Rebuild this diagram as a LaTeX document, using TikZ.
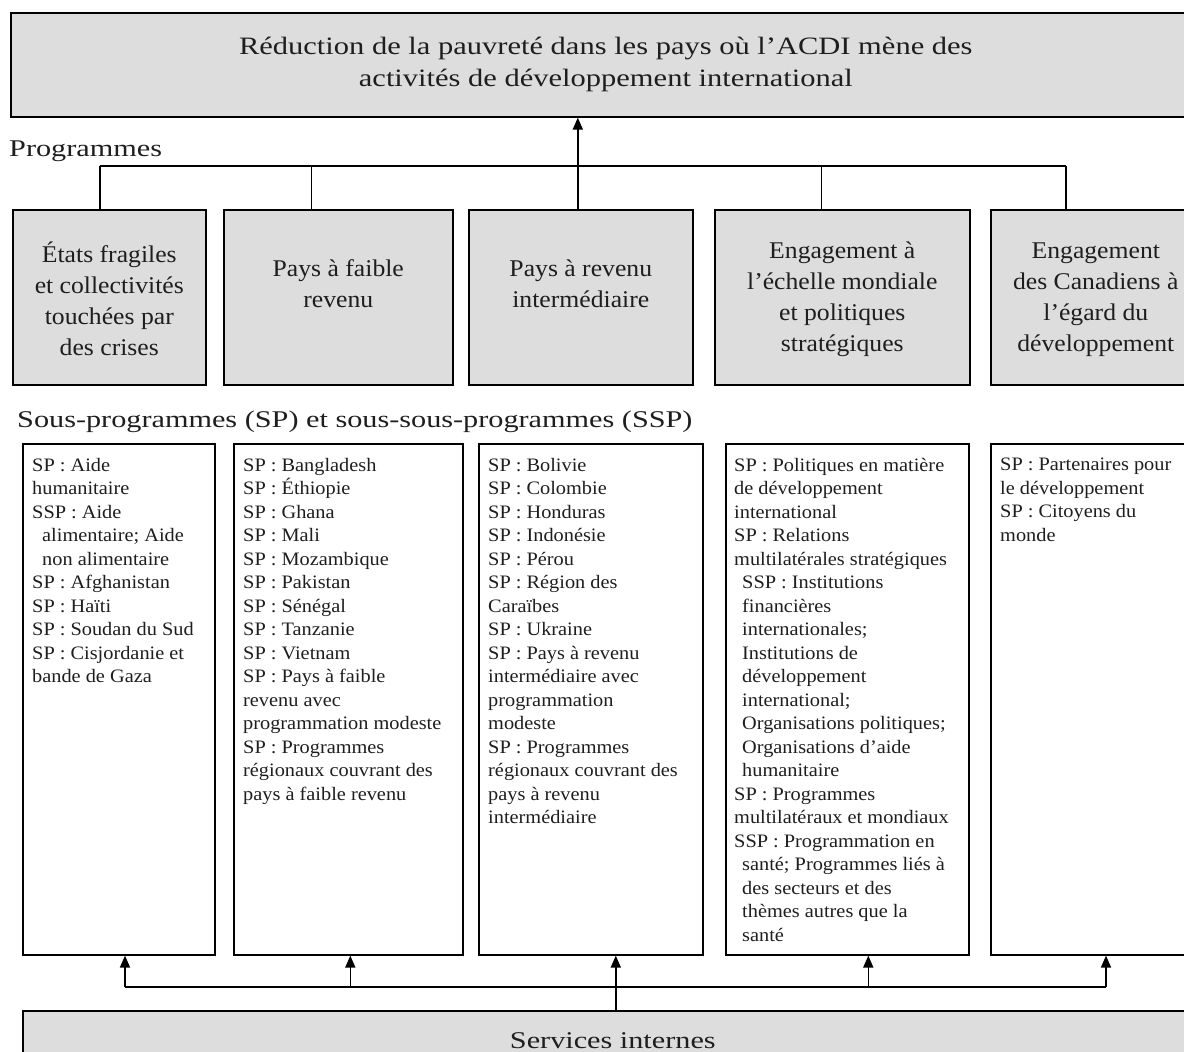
\documentclass[tikz,border=0pt]{standalone}
\usepackage{fontspec}
\setmainfont{Liberation Serif}
\newfontfamily\labelfont[FakeStretch=1.26]{Liberation Serif}
\newfontfamily\goalfont[FakeStretch=1.22]{Liberation Serif}
\newfontfamily\boxfont[FakeStretch=1.07]{Liberation Serif}
\newfontfamily\listfont[FakeStretch=1.07]{Liberation Serif}
\usetikzlibrary{positioning,calc,arrows.meta}
\definecolor{boxgray}{RGB}{221,221,221}
\definecolor{inkgray}{RGB}{30,30,30}

\begin{document}
\begin{tikzpicture}[x=1pt,y=-1pt,every node/.style={font=\labelfont\fontsize{24}{31}\selectfont, text=inkgray}]
  \tikzstyle{bigbox}=[draw, fill=boxgray, line width=1.6pt, anchor=north west, inner sep=0pt, align=center]
  \tikzstyle{progbox}=[draw, fill=boxgray, line width=1.6pt, anchor=north west, minimum height=175pt]
  \tikzstyle{subbox}=[draw, line width=1.6pt, anchor=north west, minimum height=511pt]
  \tikzstyle{progtext}=[align=center, inner sep=0pt, font=\boxfont\fontsize{24}{31}\selectfont]
  \tikzstyle{subtext}=[align=left, anchor=north west, inner sep=0pt, font=\listfont\fontsize{19}{23.5}\selectfont]
  \tikzstyle{link}=[line width=1.6pt]
  \tikzstyle{uparrow}=[line width=1.6pt, -{Triangle[length=12pt,width=10pt]}]
  \useasboundingbox (0,0) rectangle (1184,1052);
  % goal
  \node[bigbox, minimum width=1190pt, minimum height=104pt, font=\goalfont\fontsize{25}{32}\selectfont] (goal) at (10,12) {Réduction de la pauvreté dans les pays où l’ACDI mène des\\activités de développement international};
  \node[anchor=west, inner sep=0pt] (proglabel) at (9,151) {Programmes};
  % programmes
  \node[progbox, minimum width=193pt] (prog1) at (12,209) {};
  \node[progbox, minimum width=229pt] (prog2) at (223,209) {};
  \node[progbox, minimum width=224pt] (prog3) at (468,209) {};
  \node[progbox, minimum width=255pt] (prog4) at (714,209) {};
  \node[progbox, minimum width=210pt] (prog5) at (990,209) {};
  \node[progtext] (prog1text) at ([yshift=-2pt]prog1.center) {États fragiles\\et collectivités\\touchées par\\des crises};
  \node[progtext] (prog2text) at ([yshift=14pt]prog2.center) {Pays à faible\\revenu};
  \node[progtext] (prog3text) at ([yshift=14pt]prog3.center) {Pays à revenu\\intermédiaire};
  \node[progtext] (prog4text) at ([yshift=-2pt]prog4.center) {Engagement à\\l’échelle mondiale\\et politiques\\stratégiques};
  \node[progtext] (prog5text) at ([yshift=-2pt]prog5.center) {Engagement\\des Canadiens à\\l’égard du\\développement};
  \node[anchor=west, inner sep=0pt] (sublabel) at (17,422) {Sous-programmes (SP) et sous-sous-programmes (SSP)};
  % sub-programmes
  \node[subbox, minimum width=192pt] (sub1) at (22,443) {};
  \node[subbox, minimum width=229pt] (sub2) at (233,443) {};
  \node[subbox, minimum width=224pt] (sub3) at (478,443) {};
  \node[subbox, minimum width=243pt] (sub4) at (725,443) {};
  \node[subbox, minimum width=210pt] (sub5) at (990,443) {};
  \node[subtext] (sub1text) at ([shift={(10,15)}]sub1.north west) {SP : Aide\\humanitaire\\SSP : Aide\\\hspace*{10pt}alimentaire; Aide\\\hspace*{10pt}non alimentaire\\SP : Afghanistan\\SP : Haïti\\SP : Soudan du Sud\\SP : Cisjordanie et\\bande de Gaza};
  \node[subtext] (sub2text) at ([shift={(10,15)}]sub2.north west) {SP : Bangladesh\\SP : Éthiopie\\SP : Ghana\\SP : Mali\\SP : Mozambique\\SP : Pakistan\\SP : Sénégal\\SP : Tanzanie\\SP : Vietnam\\SP : Pays à faible\\revenu avec\\programmation modeste\\SP : Programmes\\régionaux couvrant des\\pays à faible revenu};
  \node[subtext] (sub3text) at ([shift={(10,15)}]sub3.north west) {SP : Bolivie\\SP : Colombie\\SP : Honduras\\SP : Indonésie\\SP : Pérou\\SP : Région des\\Caraïbes\\SP : Ukraine\\SP : Pays à revenu\\intermédiaire avec\\programmation\\modeste\\SP : Programmes\\régionaux couvrant des\\pays à revenu\\intermédiaire};
  \node[subtext] (sub4text) at ([shift={(9,15)}]sub4.north west) {SP : Politiques en matière\\de développement\\international\\SP : Relations\\multilatérales stratégiques\\\hspace*{8pt}SSP : Institutions\\\hspace*{8pt}financières\\\hspace*{8pt}internationales;\\\hspace*{8pt}Institutions de\\\hspace*{8pt}développement\\\hspace*{8pt}international;\\\hspace*{8pt}Organisations politiques;\\\hspace*{8pt}Organisations d’aide\\\hspace*{8pt}humanitaire\\SP : Programmes\\multilatéraux et mondiaux\\SSP : Programmation en\\\hspace*{8pt}santé; Programmes liés à\\\hspace*{8pt}des secteurs et des\\\hspace*{8pt}thèmes autres que la\\\hspace*{8pt}santé};
  \node[subtext] (sub5text) at ([shift={(10,15)}]sub5.north west) {SP : Partenaires pour\\le développement\\SP : Citoyens du\\monde};
  % internal services
  \node[bigbox, minimum width=1180pt, minimum height=60pt] (services) at (22,1010) {Services internes};
  % programmes feed the goal
  \coordinate (busleft) at (100,166);
  \coordinate (busright) at (1066,166);
  \draw[link] (busleft) -- (busright);
  \draw[link] (busleft) -- (busleft |- prog1.north);
  \draw[link] ([xshift=-27pt]prog2.north) -- ([xshift=-27pt]prog2.north |- busleft);
  \draw[link] ([xshift=-21pt]prog4.north) -- ([xshift=-21pt]prog4.north |- busleft);
  \draw[link] (busright) -- (busright |- prog5.north);
  \draw[uparrow] ([xshift=-3pt]prog3.north) -- ([xshift=-3pt]prog3.north |- goal.south);
  % services feed the sub-programmes
  \coordinate (feedleft) at (125,987);
  \coordinate (feedright) at (1106,987);
  \draw[link] (feedleft) -- (feedright);
  \draw[uparrow] (feedleft) -- (feedleft |- sub1.south);
  \draw[uparrow] ([xshift=2pt]sub2.south |- feedleft) -- ([xshift=2pt]sub2.south);
  \draw[uparrow] ([xshift=21pt]sub4.south |- feedleft) -- ([xshift=21pt]sub4.south);
  \draw[uparrow] (feedright) -- (feedright |- sub5.south);
  \draw[uparrow] ([xshift=25pt]services.north -| sub3.south) -- ([xshift=25pt]sub3.south);
\end{tikzpicture}
\end{document}
